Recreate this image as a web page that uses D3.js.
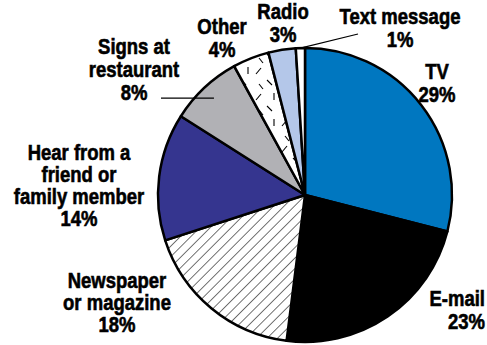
<!DOCTYPE html>
<html>
<head>
<meta charset="utf-8">
<script src="https://cdn.jsdelivr.net/npm/d3@7"></script>
<style>
  html, body { margin: 0; padding: 0; background: #fff; }
  svg { display: block; }
  .lbl { font-family: "Liberation Sans", Arial, sans-serif; font-weight: bold; font-size: 21.5px; fill: #000; stroke: #000; stroke-width: 0.6px; }
</style>
</head>
<body>
<svg id="chart" width="487" height="345"></svg>
<script>
// How people hear about restaurant deals (share of responses, %)
const categories = ["TV", "E-mail", "Newspaper or magazine", "Hear from a friend or family member", "Signs at restaurant", "Other", "Radio", "Text message"];
const values = [29, 23, 18, 14, 8, 4, 3, 1];
const labelLines = [
  ["TV", "29%"],
  ["E-mail", "23%"],
  ["Newspaper", "or magazine", "18%"],
  ["Hear from a", "friend or", "family member", "14%"],
  ["Signs at", "restaurant", "8%"],
  ["Other", "4%"],
  ["Radio", "3%"],
  ["Text message", "1%"]
];

// Fill for each slice (patterns defined below)
const fills = ["#0077c0", "#000000", "url(#hatch)", "#35358f", "#b1b1b5", "url(#dashes)", "#b4c7e9", "#ffffff"];

// Label placement: anchor point, alignment, line height
const labelLayout = [
  { x: 437, y: 79, anchor: "middle" },
  { x: 485, y: 306, anchor: "end" },
  { x: 117, y: 288, anchor: "middle" },
  { x: 79, y: 160, anchor: "middle" },
  { x: 134, y: 54, anchor: "middle" },
  { x: 222, y: 34, anchor: "middle" },
  { x: 283, y: 19, anchor: "middle" },
  { x: 400, y: 24, anchor: "middle" }
];
const lineHeight = [23, 23, 22, 22, 23, 23, 23, 23];
const condense = 0.86;

const svg = d3.select("#chart");
const defs = svg.append("defs");

// Diagonal hatching
const hatch = defs.append("pattern")
  .attr("id", "hatch")
  .attr("patternUnits", "userSpaceOnUse")
  .attr("width", 7.4).attr("height", 7.4)
  .attr("patternTransform", "rotate(45)");
hatch.append("rect").attr("width", 7.4).attr("height", 7.4).attr("fill", "#fff");
hatch.append("line").attr("x1", 0).attr("y1", 0).attr("x2", 0).attr("y2", 7.4)
  .attr("stroke", "#000").attr("stroke-width", 1.1);

// Scattered short dashes
const dashes = defs.append("pattern")
  .attr("id", "dashes")
  .attr("patternUnits", "userSpaceOnUse")
  .attr("width", 26).attr("height", 26);
dashes.append("rect").attr("width", 26).attr("height", 26).attr("fill", "#fff");
[[3, 9, 8, 3], [14, 15, 19, 20], [21, 2, 21, 9], [6, 19, 10, 24]].forEach(d => {
  dashes.append("line").attr("x1", d[0]).attr("y1", d[1]).attr("x2", d[2]).attr("y2", d[3])
    .attr("stroke", "#000").attr("stroke-width", 1.1);
});

const cx = 305, cy = 195, r = 147;
const g = svg.append("g").attr("transform", `translate(${cx},${cy})`);

const pie = d3.pie().sort(null).value(d => d)(values);
const arc = d3.arc().innerRadius(0).outerRadius(r);

g.selectAll("path.slice")
  .data(pie)
  .join("path")
  .attr("class", "slice")
  .attr("d", arc)
  .attr("fill", (d, i) => fills[i])
  .attr("stroke", "#000")
  .attr("stroke-width", 2.5)
  .attr("stroke-linejoin", "round");

// Leader lines for the slices whose labels sit away from them
const leaderArc = d3.arc().innerRadius(r - 14).outerRadius(r - 14);
const signsIdx = 4, textIdx = 7;
const signsPt = leaderArc.centroid(pie[signsIdx]);
svg.append("line")
  .attr("x1", 161).attr("y1", cy + signsPt[1])
  .attr("x2", cx + signsPt[0]).attr("y2", cy + signsPt[1])
  .attr("stroke", "#000").attr("stroke-width", 1.2);
const textPt = d3.arc().innerRadius(r).outerRadius(r).centroid(pie[textIdx]);
svg.append("line")
  .attr("x1", 358).attr("y1", 34)
  .attr("x2", cx + textPt[0]).attr("y2", cy + textPt[1])
  .attr("stroke", "#000").attr("stroke-width", 1.2);

// Labels, horizontally condensed
labelLines.forEach((lines, i) => {
  const L = labelLayout[i];
  const t = svg.append("text")
    .attr("class", "lbl")
    .attr("text-anchor", L.anchor)
    .attr("transform", `translate(${L.x},${L.y}) scale(${condense},1)`);
  lines.forEach((s, k) => {
    t.append("tspan").attr("x", 0).attr("dy", k === 0 ? 0 : lineHeight[i]).text(s);
  });
});
</script>
</body>
</html>
